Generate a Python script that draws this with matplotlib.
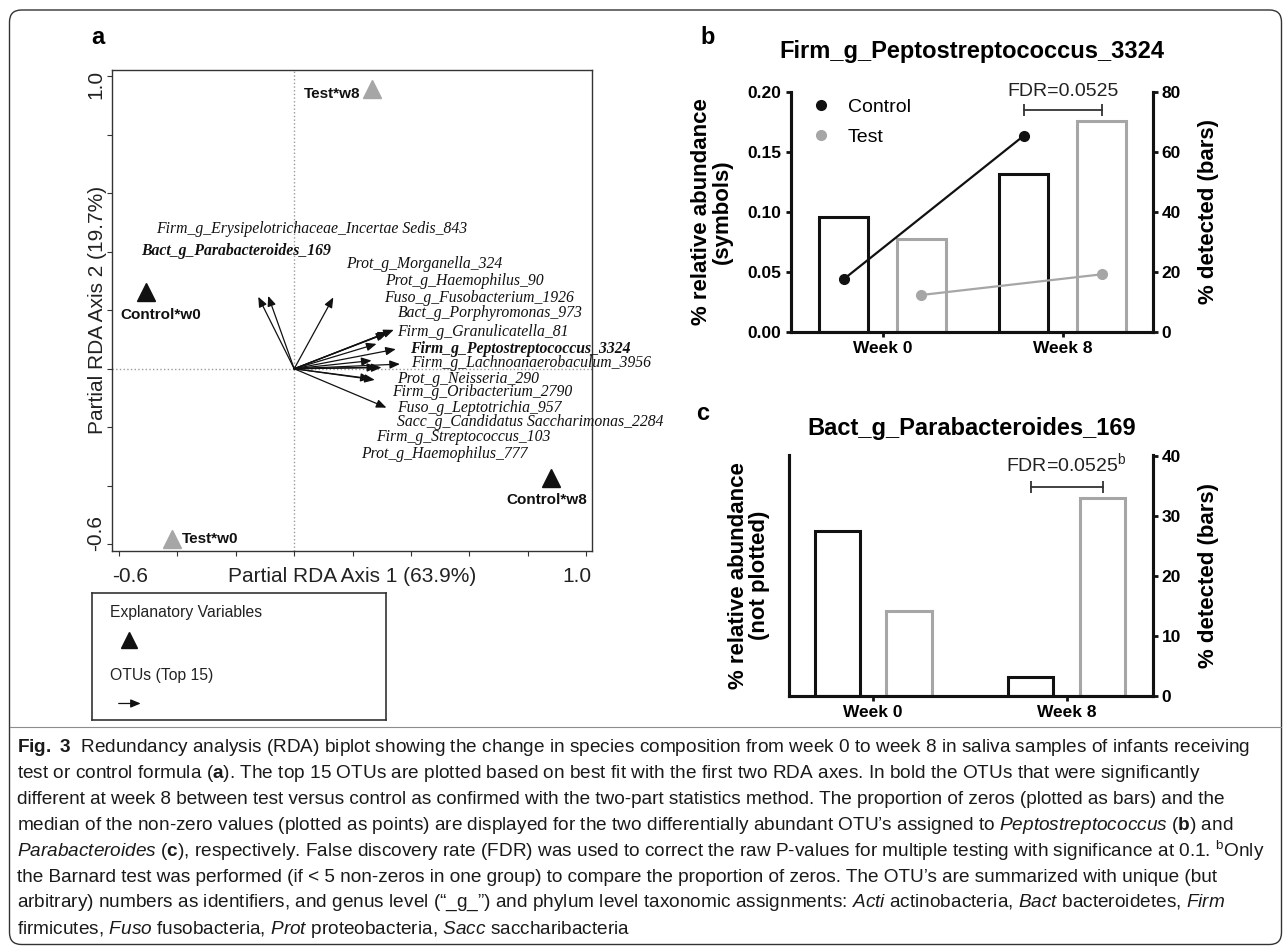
import matplotlib
matplotlib.use("Agg")
import matplotlib.pyplot as plt
import matplotlib.patches as mpatches
from matplotlib.lines import Line2D
from matplotlib import font_manager
import numpy as np

W, H = 1284, 947

# ---------------- data: panel a (RDA biplot) ----------------
site_names = ['Control*w0', 'Control*w8', 'Test*w0', 'Test*w8']
site_x = [-0.506, 0.878, -0.417, 0.268]
site_y = [0.263, -0.374, -0.581, 0.958]
site_group = ['Control', 'Control', 'Test', 'Test']

otu_names = ['Firm_g_Erysipelotrichaceae_Incertae Sedis_843',
             'Bact_g_Parabacteroides_169',
             'Prot_g_Morganella_324',
             'Prot_g_Haemophilus_90',
             'Fuso_g_Fusobacterium_1926',
             'Bact_g_Porphyromonas_973',
             'Firm_g_Granulicatella_81',
             'Firm_g_Peptostreptococcus_3324',
             'Firm_g_Lachnoanaerobaculum_3956',
             'Prot_g_Neisseria_290',
             'Firm_g_Oribacterium_2790',
             'Fuso_g_Leptotrichia_957',
             'Sacc_g_Candidatus Saccharimonas_2284',
             'Firm_g_Streptococcus_103',
             'Prot_g_Haemophilus_777']
otu_bold = [False, True, False, False, False, False, False, True,
            False, False, False, False, False, False, False]
# arrow tips (axis 1, axis 2)
otu_x = [-0.123, -0.089, 0.134, 0.322, 0.316, 0.282, 0.341, 0.348,
         0.362, 0.265, 0.299, 0.316, 0.284, 0.262, 0.276]
otu_y = [0.246, 0.249, 0.244, 0.125, 0.121, 0.085, 0.133, 0.067,
         0.016, 0.028, 0.004, -0.133, 0.005, -0.034, -0.038]
# where the OTU names are written (left edge, centre)
otu_label_x = [-0.472, -0.524, 0.177, 0.311, 0.309, 0.354, 0.354, 0.396,
               0.400, 0.354, 0.335, 0.351, 0.351, 0.280, 0.229]
otu_label_y = [0.477, 0.403, 0.357, 0.300, 0.242, 0.192, 0.125, 0.069,
               0.021, -0.035, -0.079, -0.135, -0.181, -0.234, -0.290]

# ---------------- data: panels b and c ----------------
weeks = ['Week 0', 'Week 8']
pep_detected_control = [38.3, 52.6]
pep_detected_test = [30.9, 70.3]
pep_abund_control = [0.0437, 0.1633]
pep_abund_test = [0.0306, 0.0478]
pep_fdr = 'FDR=0.0525'

para_detected_control = [27.6, 3.1]
para_detected_test = [14.1, 33.1]
para_fdr = r'FDR=0.0525$^{\rm b}$'

BLACK = '#111111'
GRAY = '#a6a6a6'

# ---------------- fonts ----------------
available = {f.name for f in font_manager.fontManager.ttflist}
SANS = 'Liberation Sans' if 'Liberation Sans' in available else 'DejaVu Sans'
SERIF = 'Liberation Serif' if 'Liberation Serif' in available else 'DejaVu Serif'
CAP = 'Liberation Sans Narrow' if 'Liberation Sans Narrow' in available else SANS

plt.rcParams['font.family'] = [SANS, 'DejaVu Sans']
plt.rcParams['mathtext.fontset'] = 'custom'
plt.rcParams['mathtext.rm'] = CAP
plt.rcParams['mathtext.it'] = CAP + ':italic'
plt.rcParams['mathtext.bf'] = CAP + ':bold'

fig = plt.figure(figsize=(W / 100, H / 100), dpi=100)


def fx(px):
    return px / W


def fy(py):
    return 1 - py / H


# ================= panel a =================
ax = fig.add_axes([fx(111.7), fy(550.7), fx(480.3), 481.2 / H])
ax.set_xlim(-0.625, 1.02)
ax.set_ylim(-0.622, 1.023)
ticks = np.round(np.arange(-0.6, 1.01, 0.2), 1)
ax.set_xticks(ticks)
ax.set_yticks(ticks)
ax.set_xticklabels([])
ax.set_yticklabels([])
ax.tick_params(direction='out', length=3.3, width=0.8, color='#333333')
for s in ax.spines.values():
    s.set_color('#333333')
    s.set_linewidth(1.0)
ax.axhline(0, color='#9a9a9a', ls=':', lw=1, zorder=0)
ax.axvline(0, color='#9a9a9a', ls=':', lw=1, zorder=0)

for tx, ty in zip(otu_x, otu_y):
    ax.annotate('', xy=(tx, ty), xytext=(0, 0),
                arrowprops=dict(arrowstyle='-|>,head_length=0.6,head_width=0.25',
                                color=BLACK, lw=0.9, shrinkA=0, shrinkB=0,
                                mutation_scale=10))

for name, lx, ly, b in zip(otu_names, otu_label_x, otu_label_y, otu_bold):
    ax.text(lx, ly, name, family=SERIF, style='italic', fontsize=11.3,
            weight='bold' if b else 'normal', ha='left', va='center',
            color='#111111', clip_on=False)

site_offsets = {'Control*w0': ((10, -17), 'center'),
                'Control*w8': ((-2.5, -16), 'center'),
                'Test*w0': ((7, 0), 'left'),
                'Test*w8': ((-9, -4), 'right')}
for name, sx, sy, g in zip(site_names, site_x, site_y, site_group):
    ax.plot(sx, sy, marker='^', ms=13, color=BLACK if g == 'Control' else GRAY,
            ls='none', clip_on=False)
    off, ha = site_offsets[name]
    ax.annotate(name, (sx, sy), xytext=off, textcoords='offset points',
                ha=ha, va='center', fontsize=11, weight='bold', color=BLACK)

ax.text(0.5, -0.054, 'Partial RDA Axis 1 (63.9%)', transform=ax.transAxes,
        ha='center', va='center', fontsize=15, color='#222222')
ax.text(-0.03, 0.5, 'Partial RDA Axis 2 (19.7%)', transform=ax.transAxes,
        ha='center', va='center', rotation=90, fontsize=15, color='#222222')
ax.text(0.0, -0.054, '-0.6', transform=ax.transAxes, ha='left', va='center',
        fontsize=15, color='#222222')
ax.text(1.0, -0.054, '1.0', transform=ax.transAxes, ha='right', va='center',
        fontsize=15, color='#222222')
ax.text(-0.033, 1.0, '1.0', transform=ax.transAxes, ha='center', va='top',
        rotation=90, fontsize=15, color='#222222')
ax.text(-0.033, 0.0, '-0.6', transform=ax.transAxes, ha='center', va='bottom',
        rotation=90, fontsize=15, color='#222222')

# legend box under panel a
axl = fig.add_axes([fx(92.3), fy(720), fx(293.4), 127 / H])
axl.set_xlim(0, 1)
axl.set_ylim(0, 1)
axl.set_xticks([])
axl.set_yticks([])
for s in axl.spines.values():
    s.set_color('#333333')
    s.set_linewidth(1.2)
axl.text(0.06, 0.85, 'Explanatory Variables', fontsize=11.3, va='center', color='#222222')
axl.plot([0.124], [0.63], marker='^', ms=12, color=BLACK, ls='none')
axl.text(0.06, 0.35, 'OTUs (Top 15)', fontsize=11.3, va='center', color='#222222')
axl.annotate('', xy=(0.165, 0.13), xytext=(0.09, 0.13),
             arrowprops=dict(arrowstyle='-|>,head_length=0.6,head_width=0.25',
                             color=BLACK, lw=0.9, shrinkA=0, shrinkB=0,
                             mutation_scale=10))


# ================= panels b and c =================
def style_bar_axes(a, a2):
    a.spines['top'].set_visible(False)
    a2.spines['top'].set_visible(False)
    for s in ['left', 'bottom', 'right']:
        a.spines[s].set_linewidth(2.2)
        a2.spines[s].set_linewidth(2.2)
        a.spines[s].set_color(BLACK)
        a2.spines[s].set_color(BLACK)
    a.tick_params(axis='both', direction='out', length=3.6, width=2.0, color=BLACK,
                  labelsize=12.5, pad=3)
    a2.tick_params(axis='y', direction='out', length=3.6, width=2.0, color=BLACK,
                   labelsize=12.5, pad=3)
    for lab in a.get_xticklabels() + a.get_yticklabels() + a2.get_yticklabels():
        lab.set_fontweight('bold')
    # symbols above the bars
    a.set_zorder(a2.get_zorder() + 1)
    a.patch.set_visible(False)


x = np.arange(len(weeks))

# ---- panel b ----
axb = fig.add_axes([fx(790.7), fy(331.7), fx(362), 240 / H])
axb2 = axb.twinx()
off_b, bw_b = 0.216, 0.27
axb2.bar(x - off_b, pep_detected_control, bw_b, facecolor='white',
         edgecolor=BLACK, linewidth=2.2)
axb2.bar(x + off_b, pep_detected_test, bw_b, facecolor='white',
         edgecolor=GRAY, linewidth=2.2)
axb.plot(x - off_b, pep_abund_control, '-o', color=BLACK, ms=7, lw=1.6)
axb.plot(x + off_b, pep_abund_test, '-o', color=GRAY, ms=7, lw=1.6)
axb.set_xlim(-0.51, 1.50)
axb.set_ylim(0, 0.2)
axb2.set_ylim(0, 80)
axb.set_xticks(x)
axb.set_xticklabels(weeks)
axb.set_yticks([0, 0.05, 0.10, 0.15, 0.20])
axb.set_yticklabels(['0.00', '0.05', '0.10', '0.15', '0.20'])
axb2.set_yticks([0, 20, 40, 60, 80])
style_bar_axes(axb, axb2)
axb.set_ylabel('% relative abundance\n(symbols)', fontsize=16, weight='bold',
               linespacing=1.0)
axb.yaxis.set_label_coords(-0.159, 0.5)
axb2.set_ylabel('% detected (bars)', fontsize=16, weight='bold')
axb2.yaxis.set_label_coords(1.125, 0.5)
axb2.plot([x[1] - off_b, x[1] + off_b], [74, 74], color='#333333', lw=1.3,
          marker='|', ms=8, mew=1.3)
axb2.text(x[1], 80, pep_fdr, ha='center', va='center', fontsize=14,
          color='#222222')
handles = [Line2D([], [], marker='o', ls='none', color=BLACK, ms=7, label='Control'),
           Line2D([], [], marker='o', ls='none', color=GRAY, ms=7, label='Test')]
axb.legend(handles=handles, loc='upper left', bbox_to_anchor=(0.035, 1.012),
           frameon=False, fontsize=14, handlelength=0.8, handletextpad=1.0,
           labelspacing=0.63, borderaxespad=0.3, borderpad=0.2)

# ---- panel c ----
axc = fig.add_axes([fx(789.3), fy(696), fx(363.4), 241 / H])
axc2 = axc.twinx()
off_c, bw_c = 0.186, 0.235
axc2.bar(x - off_c, para_detected_control, bw_c, facecolor='white',
         edgecolor=BLACK, linewidth=2.2)
axc2.bar(x + off_c, para_detected_test, bw_c, facecolor='white',
         edgecolor=GRAY, linewidth=2.2)
axc.set_xlim(-0.434, 1.445)
axc2.set_ylim(0, 40.2)
axc.set_yticks([])
axc.set_xticks(x)
axc.set_xticklabels(weeks)
axc2.set_yticks([0, 10, 20, 30, 40])
style_bar_axes(axc, axc2)
axc.set_ylabel('% relative abundance\n(not plotted)', fontsize=16, weight='bold',
               linespacing=1.0)
axc.yaxis.set_label_coords(-0.053, 0.5)
axc2.set_ylabel('% detected (bars)', fontsize=16, weight='bold')
axc2.yaxis.set_label_coords(1.125, 0.5)
axc2.plot([x[1] - off_c, x[1] + off_c], [34.8, 34.8], color='#333333', lw=1.3,
          marker='|', ms=8, mew=1.3)
axc2.text(x[1], 38.8, para_fdr, ha='center', va='center', fontsize=14,
          color='#222222')

# titles and panel letters
fig.text(fx(972), fy(51.7), 'Firm_g_Peptostreptococcus_3324', ha='center',
         va='center', fontsize=17, weight='bold')
fig.text(fx(972), fy(428.3), 'Bact_g_Parabacteroides_169', ha='center',
         va='center', fontsize=17, weight='bold')
fig.text(fx(97.5), fy(38), 'a', ha='center', va='center', fontsize=17, weight='bold')
fig.text(fx(707.7), fy(38), 'b', ha='center', va='center', fontsize=17, weight='bold')
fig.text(fx(703), fy(414), 'c', ha='center', va='center', fontsize=17, weight='bold')

# ================= caption =================
caption_lines = [
    r"$\mathbf{Fig.\ 3}$  Redundancy analysis (RDA) biplot showing the change in species composition from week 0 to week 8 in saliva samples of infants receiving",
    r"test or control formula ($\mathbf{a}$). The top 15 OTUs are plotted based on best fit with the first two RDA axes. In bold the OTUs that were significantly",
    "different at week 8 between test versus control as confirmed with the two-part statistics method. The proportion of zeros (plotted as bars) and the",
    r"median of the non-zero values (plotted as points) are displayed for the two differentially abundant OTU’s assigned to $\mathit{Peptostreptococcus}$ ($\mathbf{b}$) and",
    r"$\mathit{Parabacteroides}$ ($\mathbf{c}$), respectively. False discovery rate (FDR) was used to correct the raw P-values for multiple testing with significance at 0.1. $^{\rm b}$Only",
    "the Barnard test was performed (if < 5 non-zeros in one group) to compare the proportion of zeros. The OTU’s are summarized with unique (but",
    r"arbitrary) numbers as identifiers, and genus level (“_g_”) and phylum level taxonomic assignments: $\mathit{Acti}$ actinobacteria, $\mathit{Bact}$ bacteroidetes, $\mathit{Firm}$",
    r"firmicutes, $\mathit{Fuso}$ fusobacteria, $\mathit{Prot}$ proteobacteria, $\mathit{Sacc}$ saccharibacteria",
]
cap_texts = []
for i, line in enumerate(caption_lines):
    t = fig.text(fx(17), fy(747 + 26 * i), line, ha='left', va='center',
                 fontsize=13, family=[CAP, 'DejaVu Sans'], color='#1a1a1a')
    cap_texts.append(t)
renderer = fig.canvas.get_renderer()
widest = max(t.get_window_extent(renderer).width for t in cap_texts)
scale = 1248 / widest
for t in cap_texts:
    t.set_fontsize(13 * scale)

# separator and rounded border
fig.add_artist(Line2D([fx(10), fx(1281)], [fy(727), fy(727)], color='#8c8c8c', lw=0.8))
border = mpatches.FancyBboxPatch((9.5, 2.5), 1272, 934.5,
                                 boxstyle='round,pad=0,rounding_size=12',
                                 transform=None, fill=False, ec='#333333', lw=1.0)
fig.patches.append(border)

fig.savefig('out.png', dpi=100)
